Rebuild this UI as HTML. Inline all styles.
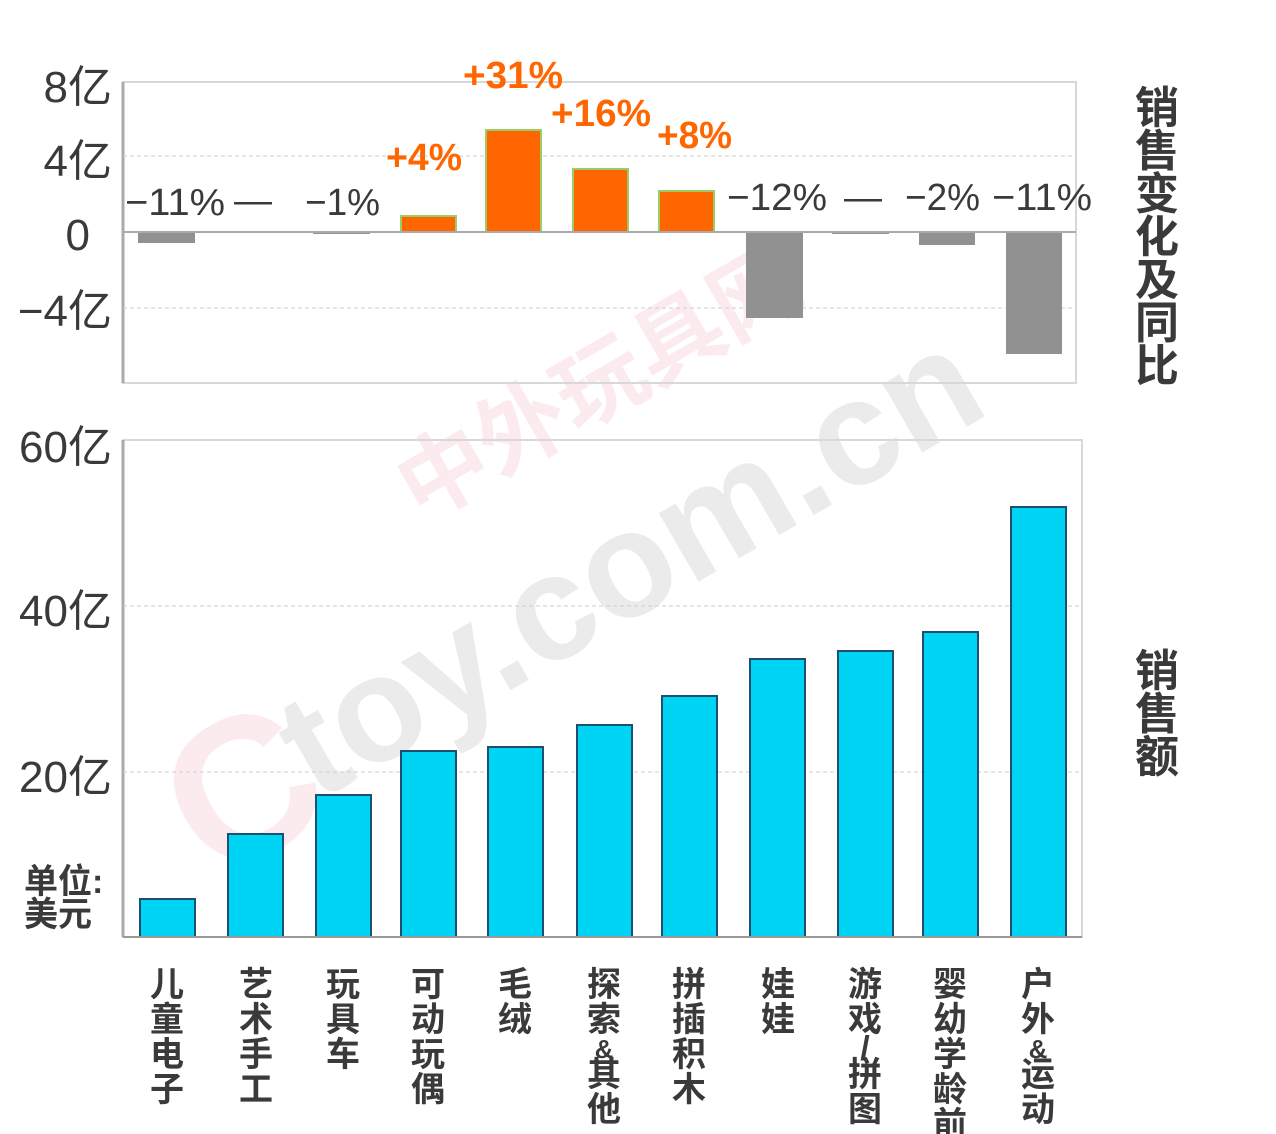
<!DOCTYPE html>
<html><head><meta charset="utf-8"><style>
body{margin:0;background:#fff}
svg{display:block}
text{font-family:"Liberation Sans","Noto Sans CJK SC",sans-serif}
</style></head><body>
<svg width="1276" height="1134" viewBox="0 0 1276 1134" xmlns="http://www.w3.org/2000/svg">
<rect width="1276" height="1134" fill="#fff"/>
<!-- watermark -->
<g opacity="0.09" transform="rotate(-30 500 500)">
<text x="60" y="690" font-size="200" font-weight="bold" fill="#e8304a">C</text>
<text x="190" y="670" font-size="150" font-weight="bold" fill="#333">toy.com.cn</text>
<text x="420" y="480" font-size="90" font-weight="bold" fill="#e8304a">中外玩具网</text>
</g>
<!-- top chart -->
<rect x="123" y="82" width="953" height="301" fill="none" stroke="#d8d8d8" stroke-width="2"/>
<line x1="123" y1="82" x2="123" y2="383" stroke="#aaa" stroke-width="3"/>
<line x1="123" y1="156" x2="1076" y2="156" stroke="#ccc" stroke-dasharray="4,3"/>
<line x1="123" y1="308" x2="1076" y2="308" stroke="#ccc" stroke-dasharray="4,3"/>
<g fill="#919191">
<rect x="138" y="232" width="57" height="11"/>
<rect x="313" y="232" width="57" height="2"/>
<rect x="746" y="232" width="57" height="86"/>
<rect x="832" y="232" width="57" height="2"/>
<rect x="919" y="232" width="56" height="13"/>
<rect x="1006" y="232" width="56" height="122"/>
</g>
<g fill="#ff6600" stroke="#9ccc65" stroke-width="2">
<rect x="401" y="216" width="55" height="16"/>
<rect x="486" y="130" width="55" height="102"/>
<rect x="573" y="169" width="55" height="63"/>
<rect x="659" y="191" width="55" height="41"/>
</g>
<line x1="123" y1="232" x2="1076" y2="232" stroke="#aaa" stroke-width="2"/>
<g font-size="44" fill="#3a3a3a" text-anchor="end">
<text x="112" y="102">8亿</text>
<text x="112" y="176">4亿</text>
<text x="90" y="250">0</text>
<text x="112" y="326">−4亿</text>
</g>
<g font-size="38" fill="#3a3a3a">
<text x="125" y="215" textLength="100" lengthAdjust="spacingAndGlyphs">−11%</text>
<text x="234" y="213">—</text>
<text x="305" y="215" textLength="75" lengthAdjust="spacingAndGlyphs">−1%</text>
<text x="727" y="210" textLength="100" lengthAdjust="spacingAndGlyphs">−12%</text>
<text x="844" y="210">—</text>
<text x="905" y="210" textLength="75" lengthAdjust="spacingAndGlyphs">−2%</text>
<text x="992" y="210" textLength="100" lengthAdjust="spacingAndGlyphs">−11%</text>
</g>
<g font-size="38" fill="#ff6600" font-weight="bold">
<text x="386" y="170" textLength="76" lengthAdjust="spacingAndGlyphs">+4%</text>
<text x="463" y="88" textLength="100" lengthAdjust="spacingAndGlyphs">+31%</text>
<text x="551" y="126" textLength="100" lengthAdjust="spacingAndGlyphs">+16%</text>
<text x="657" y="148" textLength="75" lengthAdjust="spacingAndGlyphs">+8%</text>
</g>
<g font-size="44" fill="#3a3a3a" font-weight="bold" text-anchor="middle">
<text x="1157" y="123">销</text><text x="1157" y="166">售</text><text x="1157" y="209">变</text><text x="1157" y="252">化</text><text x="1157" y="295">及</text><text x="1157" y="338">同</text><text x="1157" y="381">比</text>
<text x="1157" y="686">销</text><text x="1157" y="729">售</text><text x="1157" y="772">额</text>
</g>
<!-- bottom chart -->
<rect x="123" y="440" width="959" height="497" fill="none" stroke="#d8d8d8" stroke-width="2"/>
<line x1="123" y1="440" x2="123" y2="937" stroke="#aaa" stroke-width="3"/>
<line x1="123" y1="606" x2="1082" y2="606" stroke="#ccc" stroke-dasharray="4,3"/>
<line x1="123" y1="772" x2="1082" y2="772" stroke="#ccc" stroke-dasharray="4,3"/>
<g fill="#00d4f5" stroke="#1d4f6e" stroke-width="2">
<rect x="140" y="899" width="55" height="38"/>
<rect x="228" y="834" width="55" height="103"/>
<rect x="316" y="795" width="55" height="142"/>
<rect x="401" y="751" width="55" height="186"/>
<rect x="488" y="747" width="55" height="190"/>
<rect x="577" y="725" width="55" height="212"/>
<rect x="662" y="696" width="55" height="241"/>
<rect x="750" y="659" width="55" height="278"/>
<rect x="838" y="651" width="55" height="286"/>
<rect x="923" y="632" width="55" height="305"/>
<rect x="1011" y="507" width="55" height="430"/>
</g>
<line x1="123" y1="937" x2="1082" y2="937" stroke="#999" stroke-width="2"/>
<g font-size="44" fill="#3a3a3a" text-anchor="end">
<text x="112" y="462">60亿</text>
<text x="112" y="626">40亿</text>
<text x="112" y="792">20亿</text>
</g>
<g font-size="34" fill="#3a3a3a" font-weight="bold">
<text x="24" y="893">单位:</text>
<text x="24" y="926">美元</text>
</g>
<g font-size="34" fill="#3a3a3a" font-weight="bold" text-anchor="middle">
<text x="167" y="996">儿</text><text x="167" y="1031">童</text><text x="167" y="1066">电</text><text x="167" y="1101">子</text>
<text x="256" y="996">艺</text><text x="256" y="1031">术</text><text x="256" y="1066">手</text><text x="256" y="1101">工</text>
<text x="343" y="996">玩</text><text x="343" y="1031">具</text><text x="343" y="1066">车</text>
<text x="428" y="996">可</text><text x="428" y="1031">动</text><text x="428" y="1066">玩</text><text x="428" y="1101">偶</text>
<text x="515" y="996">毛</text><text x="515" y="1031">绒</text>
<text x="604" y="996">探</text><text x="604" y="1031">索</text><text x="604" y="1058" font-size="26">&amp;</text><text x="604" y="1086">其</text><text x="604" y="1121">他</text>
<text x="689" y="996">拼</text><text x="689" y="1031">插</text><text x="689" y="1066">积</text><text x="689" y="1101">木</text>
<text x="778" y="996">娃</text><text x="778" y="1031">娃</text>
<text x="865" y="996">游</text><text x="865" y="1031">戏</text><text x="865" y="1060">/</text><text x="865" y="1086">拼</text><text x="865" y="1121">图</text>
<text x="950" y="996">婴</text><text x="950" y="1031">幼</text><text x="950" y="1066">学</text><text x="950" y="1101">龄</text><text x="950" y="1136">前</text>
<text x="1038" y="996">户</text><text x="1038" y="1031">外</text><text x="1038" y="1058" font-size="26">&amp;</text><text x="1038" y="1086">运</text><text x="1038" y="1121">动</text>
</g>
</svg>
</body></html>
